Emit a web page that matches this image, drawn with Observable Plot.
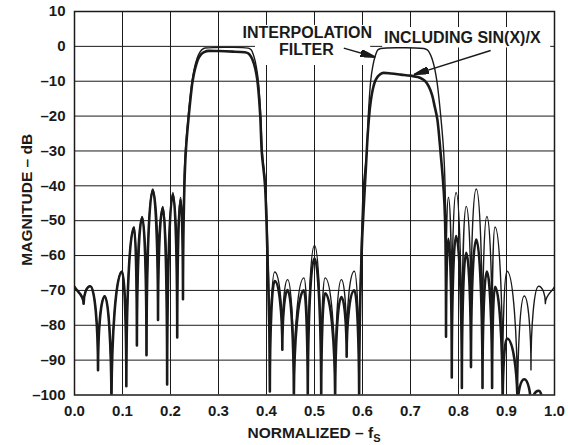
<!DOCTYPE html>
<html><head><meta charset="utf-8">
<script src="https://cdn.jsdelivr.net/npm/d3@7"></script>
<script src="https://cdn.jsdelivr.net/npm/@observablehq/plot@0.6"></script>
<style>
html,body{margin:0;padding:0;background:#fff;overflow:hidden}
</style></head><body><div id="chart"></div>
<script>
// ---- tick values ----
const xTicks = [0, 0.1, 0.2, 0.3, 0.4, 0.5, 0.6, 0.7, 0.8, 0.9, 1.0];
const yTicks = [10, 0, -10, -20, -30, -40, -50, -60, -70, -80, -90, -100];

// ---- interpolation filter (thin) ----
const freqThin = [0.000,0.019,0.033,0.049,0.063,0.077,0.099,0.108,0.124,0.130,0.141,0.150,0.163,0.174,0.184,0.193,0.205,0.214,0.221,0.226,
  0.228,0.231,0.237,0.245,0.252,0.258,0.265,0.272,0.290,0.310,0.330,0.350,0.362,0.368,0.374,0.379,0.383,0.388,0.391,0.398,0.403,0.407,
  0.417,0.433,0.444,0.457,0.478,0.486,0.500,0.514,0.522,0.543,0.556,0.567,0.583,0.593,
  0.597,0.602,0.609,0.612,0.617,0.621,0.626,0.632,0.638,0.650,0.670,0.690,0.710,0.728,0.735,0.742,0.748,0.755,0.763,0.769,0.772,0.774,
  0.779,0.786,0.795,0.807,0.816,0.826,0.837,0.850,0.859,0.870,0.876,0.892,0.901,0.923,0.937,0.951,0.967,0.981,1.000];
const magThin = [-69,-73.8,-68.8,-92.8,-71.6,-104,-64.5,-97.3,-51.8,-85.6,-48.8,-88.3,-40.9,-78.1,-45.9,-96.6,-41.9,-82.9,-43.3,-71.8,
  -40,-30,-20,-10,-5,-2.5,-1,-0.45,-0.35,-0.3,-0.3,-0.35,-0.5,-1,-3,-6,-10,-20,-30,-40,-60,-98,
  -64.7,-84,-66.9,-99,-66.4,-99,-57.1,-99,-66.4,-99,-66.9,-86,-64.5,-98,
  -60,-40,-30,-20,-10,-6,-3,-1,-0.6,-0.45,-0.4,-0.4,-0.45,-0.6,-1,-2.5,-5,-10,-20,-30,-40,-71.8,
  -43.3,-82.9,-41.9,-96.6,-45.9,-78.1,-40.9,-88.3,-48.8,-85.6,-51.8,-97.3,-64.5,-104,-71.6,-92.8,-68.8,-73.8,-69];

// ---- including sin(x)/x (thick) ----
const freqSinc = [0.000,0.019,0.033,0.049,0.063,0.077,0.099,0.108,0.124,0.130,0.141,0.150,0.163,0.174,0.184,0.193,0.205,0.214,0.221,0.226,
  0.229,0.232,0.238,0.246,0.253,0.260,0.268,0.280,0.300,0.330,0.355,0.362,0.368,0.374,0.379,0.382,0.387,0.390,0.397,0.402,0.407,
  0.417,0.433,0.444,0.457,0.478,0.486,0.500,0.514,0.522,0.543,0.556,0.567,0.583,0.593,
  0.598,0.603,0.607,0.611,0.616,0.622,0.628,0.635,0.644,0.660,0.680,0.700,0.715,0.725,0.732,0.738,0.745,0.750,0.756,0.763,0.769,0.772,0.774,
  0.779,0.786,0.795,0.807,0.816,0.826,0.837,0.850,0.859,0.870,0.876,0.892,0.901,0.923,0.937,0.951,0.967,0.981,1.000];
const magSinc = [-69,-73.8,-68.8,-92.9,-71.7,-104,-64.6,-97.5,-52.0,-85.8,-49.1,-88.6,-41.3,-78.5,-46.4,-97,-42.5,-83.5,-44.0,-72.5,
  -40,-30,-20,-10,-5.5,-3,-1.8,-1.3,-1.35,-1.5,-1.7,-2.0,-3,-5,-8,-11,-20,-30,-40,-60,-99,
  -67.3,-87,-69.9,-102,-70,-102,-60.8,-102,-70.8,-102,-71.9,-89,-70,-102,
  -60,-45,-35,-25,-17,-12,-9.5,-8.2,-7.6,-7.8,-8.1,-8.4,-8.8,-9.4,-10.2,-11.5,-14,-17,-21,-31,-41,-50,-83.3,
  -55.2,-95,-54.4,-98,-59.2,-92,-55.4,-98,-64.6,-98,-69,-104,-83.8,-104,-95.5,-104,-98.8,-104,-104];

// ---- annotations (data units) ----
const labelText = ["INTERPOLATION", "FILTER", "INCLUDING SIN(X)/X"];
const labelX = [0.485, 0.483, 0.808];
const labelY = [2.35, -2.4, 0.9];
const arrowX1 = [0.561, 0.867], arrowY1 = [-0.5, -1.2];
const arrowX2 = [0.627, 0.707], arrowY2 = [-3.1, -8.1];
const boxX1 = [0.377, 0.642], boxX2 = [0.617, 0.992];
const boxY1 = [-5.5, -0.45], boxY2 = [6.0, 5.4];

const thin = freqThin.map((f, i) => ({f, db: magThin[i]}));
const sinc = freqSinc.map((f, i) => ({f, db: magSinc[i]}));
const labels = labelText.map((t, i) => ({t, x: labelX[i], y: labelY[i]}));
const arrows = arrowX1.map((x1, i) => ({x1, y1: arrowY1[i], x2: arrowX2[i], y2: arrowY2[i]}));
const boxes = boxX1.map((x1, i) => ({x1, x2: boxX2[i], y1: boxY1[i], y2: boxY2[i]}));

const INK = "#1a1a1a";

// Curve: sharp cusps at nulls, rounded tops at lobe peaks, monotone elsewhere.
function lobeCurve(context) {
  let pts;
  return {
    areaStart() {}, areaEnd() {},
    lineStart() { pts = []; },
    point(x, y) { pts.push([+x, +y]); },
    lineEnd() {
      const n = pts.length; if (!n) return;
      context.moveTo(pts[0][0], pts[0][1]);
      if (n === 1) return;
      const kind = [], slope = [];
      for (let i = 0; i < n; i++) {
        const p = pts[i], a = pts[i - 1], b = pts[i + 1];
        if (!a || !b) {
          const q = a || p, r = b || p;
          kind[i] = "s"; slope[i] = (r[1] - q[1]) / ((r[0] - q[0]) || 1e-9);
          continue;
        }
        if (p[1] > a[1] && p[1] > b[1]) kind[i] = "v";
        else if (p[1] < a[1] && p[1] < b[1]) kind[i] = "h";
        else {
          kind[i] = "s";
          const s0 = (p[1] - a[1]) / (p[0] - a[0]), s1 = (b[1] - p[1]) / (b[0] - p[0]);
          slope[i] = s0 * s1 <= 0 ? 0 : 2 * s0 * s1 / (s0 + s1);
        }
      }
      const K = 0.55;
      for (let i = 0; i < n - 1; i++) {
        const [x0, y0] = pts[i], [x1, y1] = pts[i + 1];
        const dx = x1 - x0, dy = y1 - y0;
        let c1x, c1y, c2x, c2y;
        if (kind[i] === "v") { c1x = x0; c1y = y0 + K * dy; }
        else if (kind[i] === "h") { c1x = x0 + K * dx; c1y = y0; }
        else { c1x = x0 + dx / 3; c1y = y0 + slope[i] * dx / 3; }
        if (kind[i + 1] === "v") { c2x = x1; c2y = y1 - K * dy; }
        else if (kind[i + 1] === "h") { c2x = x1 - K * dx; c2y = y1; }
        else { c2x = x1 - dx / 3; c2y = y1 - slope[i + 1] * dx / 3; }
        context.bezierCurveTo(c1x, c1y, c2x, c2y, x1, y1);
      }
    }
  };
}

function filledArrow(color, context) {
  const doc = (context && context.document) || document;
  const ns = "http://www.w3.org/2000/svg";
  const m = doc.createElementNS(ns, "marker");
  m.setAttribute("viewBox", "-15 -3.5 15 7");
  m.setAttribute("markerWidth", "15");
  m.setAttribute("markerHeight", "7");
  m.setAttribute("markerUnits", "userSpaceOnUse");
  m.setAttribute("orient", "auto");
  const p = doc.createElementNS(ns, "path");
  p.setAttribute("d", "M-15,-3.5L0,0L-15,3.5Z");
  p.setAttribute("fill", INK);
  m.appendChild(p);
  return m;
}
const fmtY = d => d < 0 ? "\u2013" + Math.abs(d) : String(d);

function make(marker) {
  return Plot.plot({
    width: 568, height: 445,
    marginLeft: 74, marginRight: 14, marginTop: 11, marginBottom: 50.5,
    style: {fontFamily: "'Liberation Sans', Arial, sans-serif", fontSize: "15px", fontWeight: "bold", color: INK, background: "#fff"},
    x: {domain: [0, 1], ticks: xTicks, tickFormat: d => d.toFixed(1), tickSize: 0, tickPadding: 10, label: null},
    y: {domain: [-100, 10], ticks: yTicks, tickFormat: fmtY, tickSize: 0, tickPadding: 9, label: null},
    marks: [
      Plot.ruleX(xTicks.slice(1, -1), {stroke: INK, strokeWidth: 1}),
      Plot.ruleY(yTicks.slice(1, -1), {stroke: INK, strokeWidth: 1}),
      Plot.rect(boxes, {x1: "x1", x2: "x2", y1: "y1", y2: "y2", fill: "white"}),
      Plot.line(thin, {x: "f", y: "db", stroke: INK, strokeWidth: 1.4, curve: lobeCurve, clip: true}),
      Plot.line(sinc, {x: "f", y: "db", stroke: INK, strokeWidth: 2.6, curve: lobeCurve, clip: true}),
      Plot.frame({stroke: INK, strokeWidth: 1.5}),
      Plot.text(labels, {x: "x", y: "y", text: "t", textAnchor: "middle", lineAnchor: "bottom", fontSize: 16, fontWeight: "bold", fill: INK}),
      Plot.link(arrows, {x1: "x1", y1: "y1", x2: "x2", y2: "y2", stroke: INK, strokeWidth: 1.5, markerEnd: marker})
    ]
  });
}
let chart;
try { chart = make(filledArrow); } catch (e) { chart = make("arrow"); }
document.getElementById("chart").appendChild(chart);

const svg = d3.select(chart);
const sx = chart.scale("x"), sy = chart.scale("y");
const xt = svg.append("text")
  .attr("x", sx.apply(0.5)).attr("y", 438)
  .attr("text-anchor", "middle")
  .style("font-size", "15.5px").style("font-weight", "bold").attr("fill", INK);
xt.append("tspan").text("NORMALIZED \u2013 f");
xt.append("tspan").attr("dy", 4).style("font-size", "11px").text("S");
svg.append("text")
  .attr("transform", `translate(31.5,${sy.apply(-45) - 3}) rotate(-90)`)
  .attr("text-anchor", "middle")
  .style("font-size", "15.5px").style("font-weight", "bold").attr("fill", INK)
  .text("MAGNITUDE \u2013 dB");
</script></body></html>
